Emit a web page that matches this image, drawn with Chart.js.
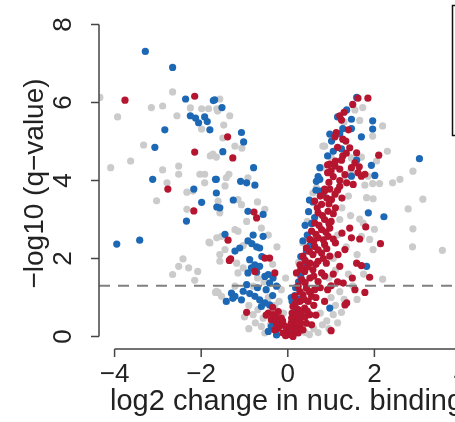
<!DOCTYPE html>
<html lang="en">
<head>
    <meta charset="UTF-8">
    <title>Volcano plot</title>
    <style>
        html, body { margin: 0; padding: 0; background: #fff; }
        #wrap { width: 455px; height: 422px; overflow: hidden; position: relative; }
        #volcano { display: block; }
    </style>
</head>
<body>
    <div id="wrap">
        <canvas id="volcano" width="520" height="422"></canvas>
    </div>

    <script src="https://cdn.jsdelivr.net/npm/chart.js"></script>
    <script>
        // [log2 change, -log10 q]
        const grayPts = [
            [-4.34,6.13],[-3.93,5.63],[-3.15,5.87],[-2.89,5.91],[-2.66,6.27],[-2.25,5.86],[-2.56,5.66],[-1.99,5.84],
            [-1.83,5.84],[-1.64,5.84],[-1.99,5.32],[-3.33,4.91],[-3.63,4.50],[-4.09,4.33],[-1.79,4.63],[-1.73,4.68],
            [-2.52,4.37],[-2.89,4.27],[-2.52,4.16],[-1.92,4.16],[-2.03,4.16],[-2.79,3.94],[-1.92,3.94],[-2.33,3.70],
            [-2.19,3.73],[-3.03,3.48],[-2.33,3.26],[-1.82,2.42],[-1.64,2.53],[-2.42,1.99],[-2.52,1.80],[-2.29,1.76],
            [-2.08,1.67],[-2.66,1.59],[-2.15,1.44],[-1.67,1.13],
            [-1.57,6.09],[-1.62,5.78],[-1.34,5.66],[-1.48,5.42],[-1.50,5.09],[-1.22,4.88],[-1.06,4.83],[-1.65,4.60],
            [-1.36,4.16],[-1.42,4.07],[-0.92,4.07],[-1.45,3.86],[-1.61,3.47],[-1.15,3.51],[-1.07,3.38],[-0.53,3.26],
            [-1.22,2.74],[-1.15,2.70],[-1.53,2.57],[-1.03,2.33],[-0.61,2.78],[-1.57,2.10],[-1.45,2.23],[-1.18,1.88],
            [-1.03,1.76],[-1.15,1.63],[-1.61,1.13],[-1.53,1.03],[-1.22,1.29],[-0.80,1.29],[-0.69,0.69],[-0.80,0.56],
            [-0.57,0.47],[-0.61,0.26],[-0.53,0.09],[-1.57,3.17],[-1.80,2.40],[-1.57,1.93],[-1.65,1.16],
            [-0.20,0.90],[-0.15,1.20],[-0.05,1.50],[-0.30,0.80],[-0.45,1.00],[-0.55,1.40],[-0.70,1.50],[-0.90,0.80],
            [-1.00,0.50],[-0.40,0.30],[-0.10,0.60],
            [-0.35,1.85],[-0.25,2.30],[-0.45,2.60],[-0.95,2.95],[-0.70,3.45],[-0.75,0.35],[-0.90,0.20],[-0.25,0.65],
            [0.85,4.88],[0.78,4.33],[0.81,4.88],[1.73,5.87],[1.55,5.81],[1.66,5.54],[2.19,5.40],[1.96,5.14],
            [1.47,4.58],[2.05,4.50],[1.85,4.11],[2.42,3.94],[2.59,4.03],[2.89,4.24],[3.12,3.52],[1.96,3.92],
            [0.66,3.81],[0.58,3.68],[1.82,3.56],[2.12,3.92],[1.78,3.88],[2.78,3.27],[2.89,2.76],[2.88,2.30],
            [3.57,2.21],[1.97,3.53],[1.66,3.01],[1.74,2.91],[1.70,2.57],[1.89,2.49],[1.97,2.23],[2.19,1.47],
            [1.05,0.56],[1.24,0.62],
            [0.90,0.40],[1.10,0.80],[1.00,1.00],[0.80,0.30],[0.60,0.20],[0.70,0.10],[1.30,0.95],[1.50,1.30],
            [1.20,1.15],[0.95,1.50],[1.05,2.00],[1.15,2.60],[1.20,3.00],[1.25,3.30],[1.40,3.60],[0.40,0.10],
            [1.60,2.10],[1.40,1.60],[0.45,2.95],[0.35,2.40],[0.25,1.90],[1.10,1.70],[1.35,2.30],[0.75,0.60],
            [1.45,3.10],[1.00,4.60],[1.30,4.00],
            [1.45,4.25],[1.70,4.60],[2.30,4.75],[0.95,0.20],[1.15,0.35],[0.50,0.05],[1.60,0.95],[1.75,1.60],
            [2.00,2.75],[1.30,5.50]
        ];

        const bluePts = [
            [-3.29,7.31],[-2.66,6.90],[-2.36,6.09],[-1.72,6.05],[-2.25,5.66],[-2.13,5.60],[-2.06,5.48],[-1.92,5.63],
            [-1.86,5.51],[-1.80,5.30],[-2.84,5.30],[-3.07,4.85],[-3.12,4.03],[-1.67,4.03],[-2.17,3.78],[-1.99,3.44],
            [-1.64,3.32],[-2.34,2.96],[-3.95,2.37],[-3.42,2.47],[-1.65,3.68],
            [-1.69,6.07],[-1.52,5.87],[-1.07,5.23],[-1.02,4.99],[-1.50,4.74],[-0.79,4.33],[-1.65,4.03],[-1.09,3.98],
            [-0.95,3.94],[-0.76,3.88],[-1.26,3.50],[-1.57,3.30],[-0.92,3.21],[-0.57,3.13],[-0.92,2.45],[-0.83,2.38],
            [-0.72,2.30],[-0.65,2.27],[-1.11,2.27],[-1.22,2.19],[-0.57,2.57],[-0.88,1.97],[-0.76,1.84],[-0.84,1.76],
            [-0.65,1.80],[-0.92,1.63],[-0.72,1.65],[-0.53,1.54],[-0.45,1.59],[-0.34,1.50],[-0.42,1.37],[-0.26,1.29],
            [-0.95,1.33],[-1.03,1.16],[-1.22,1.03],[-1.07,0.94],[-1.42,0.90],[-1.30,1.11],[-0.76,1.03],[-0.65,0.94],
            [-0.53,0.86],[-0.42,0.81],[-0.61,0.77],[-0.38,0.26],[-0.45,0.13],[-0.26,0.04],[-1.45,2.62],[-1.27,0.98],
            [-0.60,2.05],[-0.80,2.60],[-0.50,1.20],[-0.70,1.25],[-0.88,1.10],[-0.35,1.05],
            [1.59,6.13],[1.36,5.81],[1.15,5.63],[1.47,5.57],[1.96,5.53],[1.96,5.32],[1.27,5.33],[1.47,5.33],
            [1.01,5.01],[1.70,5.12],[1.24,4.81],[0.92,4.63],[1.59,4.52],[3.04,4.56],[1.93,4.39],[0.74,4.33],
            [2.01,4.13],[1.47,4.11],[0.66,3.98],[0.74,4.03],[0.74,3.73],[0.81,3.65],[0.97,5.19],[2.22,3.07],
            [1.86,3.17],[1.82,1.80],[0.97,0.73],
            [0.43,2.20],[0.51,2.33],[0.36,1.80],[0.58,3.45],[0.50,3.50],[0.62,3.05],[0.16,1.05],[0.24,0.95],
            [0.10,0.90],[0.08,1.00],[0.55,2.90],[0.30,1.55],[0.20,0.70],[0.45,2.60],[0.05,0.15],[0.12,0.30],
            [0.35,2.45],[0.40,2.85],[0.30,2.05],[0.25,1.40],[0.48,3.20],[0.65,3.75],[0.18,1.25],[0.70,4.10],
            [1.05,4.75],[1.20,5.20]
        ];

        const redPts = [
            [-3.76,6.06],[-2.15,6.16],[-2.15,4.73],[-2.77,3.78],[-2.17,3.22],[-1.39,5.12],[-1.27,4.58],[-0.78,3.19],
            [-0.72,3.04],[-1.38,2.47],[-0.53,2.01],[-0.42,2.01],[-1.32,1.99],[-0.76,1.67],[-0.30,1.63],[-0.95,0.62],
            [-0.45,0.60],[-0.34,0.56],[-0.22,0.64],[-0.38,0.43],[-0.26,0.34],[-0.15,0.47],[-0.22,0.21],[-0.11,0.09],
            [-0.03,0.13],[-0.30,0.17],[-1.35,1.95],
            [-0.18,0.30],[-0.08,0.28],[-0.28,0.50],[-0.12,0.40],[-0.50,0.55],[-0.35,0.75],
            [1.62,6.11],[1.85,6.11],[1.20,5.66],[1.24,5.55],[1.12,5.23],[1.09,5.12],[1.27,5.06],[1.34,5.01],
            [1.43,4.84],[1.59,4.71],[2.10,4.65],[1.27,4.63],[1.24,4.52],[0.97,4.42],[1.09,4.37],[1.20,4.29],
            [1.47,4.33],[0.92,4.20],[1.05,4.10],[1.20,4.00],[1.32,4.15],[1.62,4.20],[1.70,4.11],[1.78,4.16],
            [1.36,3.94],[1.51,3.90],[0.85,3.78],[0.97,3.78],[1.09,3.65],[0.92,4.40],[1.00,4.25],
            [1.80,2.81],[1.43,2.78],[1.47,2.53],[1.66,2.50],[2.14,2.38],[1.32,2.23],[1.59,1.88],[1.70,1.82],
            [1.89,1.52],[1.49,1.50],[1.28,1.37],[1.55,1.20],[1.78,1.13],[1.36,0.86],[1.32,0.81],[1.20,1.80],
            [1.16,2.10],
            [0.01,0.09],[0.12,0.00],[0.24,0.09],[0.16,0.21],[0.28,0.26],[0.05,0.26],[0.35,0.17],[0.43,0.34],
            [0.20,0.43],[0.09,0.47],[0.32,0.51],[0.51,0.56],[0.24,0.69],[0.39,0.73],[0.12,0.77],[0.28,0.90],
            [0.47,0.90],[0.16,1.03],[0.35,1.07],[0.55,1.03],[0.24,1.29],[0.43,1.24],[0.62,1.20],[0.32,1.46],
            [0.51,1.50],[0.70,1.41],[0.20,1.63],[0.39,1.67],[0.58,1.71],[0.78,1.63],[0.28,1.84],[0.51,1.88],
            [0.70,1.93],[0.89,1.88],[0.35,2.06],[0.58,2.10],[0.78,2.14],[0.97,2.06],[0.43,2.27],[0.62,2.31],
            [0.85,2.36],[0.51,2.49],[0.70,2.53],[0.93,2.57],[0.55,2.70],[0.78,2.74],[0.97,2.78],[0.62,2.91],
            [0.85,3.00],[0.70,3.17],[0.93,3.21],[0.78,3.39],[0.62,3.47],[1.01,3.51],[0.85,3.73],
            [0.05,0.05],[-0.05,0.02],[0.18,0.10],[0.30,0.35],[0.10,0.60],[0.60,0.80],[0.65,1.00],[0.75,1.25],
            [0.85,1.55],[1.00,1.30],[1.05,1.60],[1.10,2.40],[1.00,2.95],[1.10,3.30],[1.25,3.55],[0.95,3.40],
            [0.15,0.35],[0.22,0.55],[0.40,0.50],[0.08,0.35],[0.30,0.62],[0.45,0.65],[0.18,0.85],[0.38,0.95],
            [0.50,1.15],[0.28,1.15],[0.40,1.38],[0.60,1.55],[0.30,1.72],[0.45,1.78],[0.65,1.85],[0.82,2.00],
            [0.40,1.95],[0.50,2.18],[0.70,2.22],[0.90,2.25],[0.60,2.45],[0.82,2.48],[1.05,2.50],[0.65,2.62],
            [0.88,2.68],[0.72,2.85],[0.95,2.90],[0.80,3.10],[1.05,3.15],[0.68,3.30],[0.90,3.55],[0.75,3.60],
            [1.15,3.75],[0.95,3.95],[1.10,4.50],[1.35,4.70],[1.15,4.85],[1.40,5.30],[1.30,5.75],[1.50,5.95],
            [1.55,4.45],[1.65,4.35],[1.00,0.15],[0.55,0.30],[0.65,0.55],[0.85,0.90],[1.15,1.40],[0.92,1.20],
            [1.25,2.65],[1.20,3.85]
        ];

        const xTicks = [-4, -2, 0, 2, 4];
        const yTicks = [0, 2, 4, 6, 8];
        const cutoff = 1.3;   // -log10(0.05)
        const xTitle = 'log2 change in nuc. binding';
        const yTitle = '\u2212log10 (q\u2212value)';

        const toXY = pts => pts.map(p => ({ x: p[0], y: p[1] }));
        const minus = v => (v < 0 ? '\u2212' + Math.abs(v) : String(v));

        // R-style axes, drawn from the chart's scales
        const baseAxes = {
            id: 'baseAxes',
            afterDatasetsDraw(chart) {
                const { ctx, chartArea, scales } = chart;
                const xs = scales.x, ys = scales.y;
                ctx.save();

                // threshold line
                ctx.strokeStyle = '#808080';
                ctx.lineWidth = 2;
                ctx.setLineDash([11, 8]);
                const yc = ys.getPixelForValue(cutoff);
                ctx.beginPath();
                ctx.moveTo(chartArea.left, yc);
                ctx.lineTo(chartArea.right + 60, yc);
                ctx.stroke();
                ctx.setLineDash([]);

                ctx.strokeStyle = '#444';
                ctx.fillStyle = '#222';
                ctx.lineWidth = 1.5;

                // y axis
                const ax = chartArea.left;
                ctx.beginPath();
                ctx.moveTo(ax, ys.getPixelForValue(yTicks[0]));
                ctx.lineTo(ax, ys.getPixelForValue(yTicks[yTicks.length - 1]));
                yTicks.forEach(t => {
                    const py = ys.getPixelForValue(t);
                    ctx.moveTo(ax, py);
                    ctx.lineTo(ax - 8, py);
                });
                ctx.stroke();
                ctx.font = '26px "Liberation Sans", Arial, sans-serif';
                ctx.textAlign = 'center';
                ctx.textBaseline = 'middle';
                yTicks.forEach(t => {
                    const py = ys.getPixelForValue(t);
                    ctx.save();
                    ctx.translate(ax - 36, py);
                    ctx.rotate(-Math.PI / 2);
                    ctx.fillText(minus(t), 0, 1);
                    ctx.restore();
                });

                // x axis
                const ay = chartArea.bottom;
                ctx.beginPath();
                ctx.moveTo(xs.getPixelForValue(xTicks[0]), ay);
                ctx.lineTo(xs.getPixelForValue(xTicks[xTicks.length - 1]), ay);
                xTicks.forEach(t => {
                    const px = xs.getPixelForValue(t);
                    ctx.moveTo(px, ay);
                    ctx.lineTo(px, ay + 8);
                });
                ctx.stroke();
                ctx.textBaseline = 'alphabetic';
                xTicks.forEach(t => {
                    ctx.fillText(minus(t), xs.getPixelForValue(t), ay + 33);
                });

                // titles
                ctx.font = '29px "Liberation Sans", Arial, sans-serif';
                ctx.textAlign = 'left';
                ctx.fillText(xTitle, ax + 11, ay + 61);
                ctx.font = '28px "Liberation Sans", Arial, sans-serif';
                ctx.textAlign = 'center';
                ctx.save();
                ctx.translate(ax - 64, (chartArea.top + chartArea.bottom) / 2 + 3);
                ctx.rotate(-Math.PI / 2);
                ctx.textBaseline = 'middle';
                ctx.fillText(yTitle, 0, 0);
                ctx.restore();

                // legend frame (contents fall outside the visible area)
                ctx.strokeStyle = '#111';
                ctx.lineWidth = 1.5;
                ctx.strokeRect(452.5, 5.5, 120, 130);

                ctx.restore();
            }
        };

        new Chart(document.getElementById('volcano'), {
            type: 'scatter',
            data: {
                datasets: [
                    { label: 'red', data: toXY(redPts), backgroundColor: '#b5152f', order: 1 },
                    { label: 'blue', data: toXY(bluePts), backgroundColor: '#1d68b5', order: 2 },
                    { label: 'gray', data: toXY(grayPts), backgroundColor: '#cbcbcb', order: 3 }
                ]
            },
            options: {
                responsive: false,
                animation: false,
                devicePixelRatio: 1,
                elements: { point: { radius: 3.6, borderWidth: 0, hoverRadius: 3.6 } },
                layout: { padding: { left: 99, top: 12, right: 59, bottom: 73 } },
                scales: {
                    x: { type: 'linear', min: -4.36, max: 4.0, display: false },
                    y: { type: 'linear', min: -0.32, max: 8.32, display: false }
                },
                plugins: { legend: { display: false }, tooltip: { enabled: false } }
            },
            plugins: [baseAxes]
        });
    </script>
</body>
</html>
